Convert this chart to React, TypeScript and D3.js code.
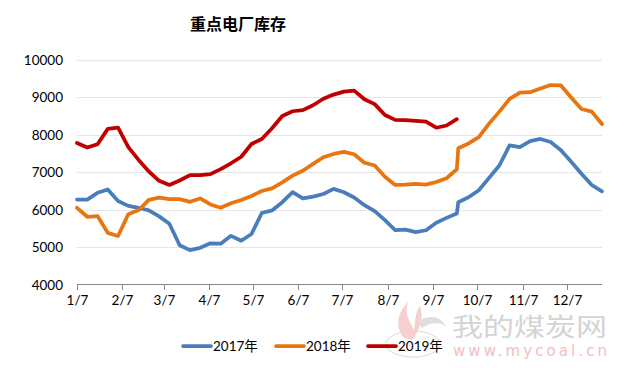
import { useEffect, useRef } from "react";
import { select, scaleLinear, scaleTime, timeParse, line } from "d3";

// 周数据（万吨），日期为 月/日
const dates = [
  "1/7", "1/14", "1/21", "1/28", "2/4", "2/11", "2/18", "2/25",
  "3/4", "3/11", "3/18", "3/25", "4/1", "4/8", "4/15", "4/22", "4/29",
  "5/6", "5/13", "5/20", "5/27", "6/3", "6/10", "6/17", "6/24",
  "7/1", "7/8", "7/15", "7/22", "7/29", "8/5", "8/12", "8/19", "8/26",
  "9/2", "9/9", "9/16", "9/23", "9/24",
  "10/1", "10/8", "10/15", "10/22", "10/29", "11/5", "11/12", "11/19", "11/26",
  "12/3", "12/10", "12/17", "12/24", "12/31",
];

const s2017 = [
  6270, 6270, 6450, 6540, 6230, 6100, 6050, 5980, 5820, 5625, 5050, 4920, 4980,
  5100, 5090, 5300, 5170, 5350, 5910, 5980, 6200, 6470, 6300, 6350, 6420, 6555,
  6465, 6325, 6120, 5960, 5720, 5450, 5465, 5400, 5450, 5650, 5780, 5900, 6200,
  6330, 6520, 6850, 7180, 7720, 7670, 7830, 7890, 7810, 7590, 7280, 6960, 6660,
  6490,
];
const s2018 = [
  6050, 5810, 5830, 5380, 5295, 5880, 5990, 6260, 6320, 6280, 6280, 6210, 6300,
  6140, 6050, 6170, 6260, 6365, 6500, 6570, 6730, 6910, 7040, 7225, 7400, 7490,
  7545, 7480, 7255, 7180, 6880, 6660, 6670, 6690, 6670, 6740, 6840, 7080, 7640,
  7770, 7940, 8300, 8620, 8960, 9130, 9140, 9240, 9330, 9320, 9000, 8690, 8620,
  8290,
];
const s2019 = [
  7780, 7660, 7750, 8160, 8190, 7670, 7330, 7020, 6770, 6660, 6780, 6925, 6925,
  6950, 7085, 7240, 7415, 7755, 7890, 8175, 8505, 8630, 8660, 8790, 8965, 9075,
  9155, 9180, 8950, 8820, 8530, 8400, 8390, 8370, 8350, 8190, 8250, 8420,
];

const seriesNames = ["2017年", "2018年", "2019年"];
const seriesColors = ["#4a7ebb", "#e8750f", "#c00000"];
const monthTicks = ["1/7", "2/7", "3/7", "4/7", "5/7", "6/7", "7/7", "8/7", "9/7", "10/7", "11/7", "12/7"];
const yTicks = [4000, 5000, 6000, 7000, 8000, 9000, 10000];

const W = 626,
  H = 368;
const FONT = "Lato, 'Liberation Sans', sans-serif";

const parse = timeParse("%m/%d");

const drawChart = (el: SVGSVGElement) => {
  const svg = select(el);
  svg.selectAll("*").remove();

  const x = scaleTime([parse("1/7") as Date, parse("12/31") as Date], [77, 602]);
  const y = scaleLinear([4000, 10000], [284.5, 60]);

  // 网格线
  svg
    .append("g")
    .selectAll("line")
    .data(yTicks.slice(1))
    .enter()
    .append("line")
    .attr("x1", 77)
    .attr("x2", 602)
    .attr("y1", (d) => Math.round(y(d)) + 0.5)
    .attr("y2", (d) => Math.round(y(d)) + 0.5)
    .attr("stroke", "#e6e6e6")
    .attr("stroke-width", 1);

  // y轴标签
  svg
    .append("g")
    .selectAll("text")
    .data(yTicks)
    .enter()
    .append("text")
    .attr("x", 63)
    .attr("y", (d) => y(d) + 5)
    .attr("text-anchor", "end")
    .attr("font-family", FONT)
    .attr("font-size", 13.5)
    .attr("fill", "#000")
    .text((d) => d);

  // x轴
  svg
    .append("line")
    .attr("x1", 77)
    .attr("x2", 602)
    .attr("y1", 284.5)
    .attr("y2", 284.5)
    .attr("stroke", "#868686");
  const xt = svg.append("g");
  monthTicks.forEach((t) => {
    const px = Math.round(x(parse(t) as Date)) + 0.5;
    xt.append("line")
      .attr("x1", px)
      .attr("x2", px)
      .attr("y1", 284.5)
      .attr("y2", 290)
      .attr("stroke", "#868686");
    xt.append("text")
      .attr("x", px)
      .attr("y", 305)
      .attr("text-anchor", "middle")
      .attr("font-family", FONT)
      .attr("font-size", 13.5)
      .attr("fill", "#000")
      .text(t);
  });

  // 水印 (logo + 文字)
  const wm = svg.append("g").attr("opacity", 0.9);
  wm.append("ellipse")
    .attr("cx", 413)
    .attr("cy", 344)
    .attr("rx", 27)
    .attr("ry", 13)
    .attr("fill", "none")
    .attr("stroke", "#e4e4e4")
    .attr("stroke-width", 1.5);
  wm.append("path")
    .attr("d", "M404,338 C394,326 398,312 408,302 C404,314 410,322 414,330 C416,322 414,314 420,306 C424,318 420,330 412,340 Z")
    .attr("fill", "#f6cccc");
  wm.append("path")
    .attr("d", "M418,322 C428,314 440,316 446,326 C438,322 430,322 422,328 Z")
    .attr("fill", "#dcdcdc");
  wm.append("text")
    .attr("x", 452)
    .attr("y", 336)
    .attr("font-family", "'Noto Sans CJK SC', sans-serif")
    .attr("font-size", 25)
    .attr("fill", "#d0d0d0")
    .attr("textLength", 155)
    .attr("lengthAdjust", "spacingAndGlyphs")
    .text("我的煤炭网");
  wm.append("text")
    .attr("x", 453)
    .attr("y", 356)
    .attr("font-family", "'DejaVu Sans', sans-serif")
    .attr("font-size", 15)
    .attr("fill", "#f2b8b8")
    .attr("textLength", 154)
    .text("www.mycoal.cn");

  // 折线
  const allData = [s2017, s2018, s2019];
  const path = line<number>()
    .x((d, i) => x(parse(dates[i]) as Date))
    .y((d) => y(d));
  allData.forEach((vals, k) => {
    svg
      .append("path")
      .attr("d", path(vals))
      .attr("fill", "none")
      .attr("stroke", seriesColors[k])
      .attr("stroke-width", 3.75)
      .attr("stroke-linejoin", "round")
      .attr("stroke-linecap", "round");
  });

  // 标题
  svg
    .append("text")
    .attr("x", 238)
    .attr("y", 30)
    .attr("text-anchor", "middle")
    .attr("font-family", "'Noto Sans CJK SC', sans-serif")
    .attr("font-weight", "bold")
    .attr("font-size", 16)
    .attr("fill", "#000")
    .text("重点电厂库存");

  // 图例
  const legendX = [183, 276, 368];
  const lg = svg.append("g");
  seriesNames.forEach((name, k) => {
    lg.append("line")
      .attr("x1", legendX[k])
      .attr("x2", legendX[k] + 28)
      .attr("y1", 346)
      .attr("y2", 346)
      .attr("stroke", seriesColors[k])
      .attr("stroke-width", 3.75)
      .attr("stroke-linecap", "round");
    lg.append("text")
      .attr("x", legendX[k] + 30)
      .attr("y", 351)
      .attr("font-family", "Lato, 'Noto Sans CJK SC', sans-serif")
      .attr("font-size", 13.5)
      .attr("fill", "#000")
      .text(name);
  });
};

const App = () => {
  const ref = useRef<SVGSVGElement>(null);
  useEffect(() => {
    if (ref.current) drawChart(ref.current);
  }, []);
  return (
    <svg
      ref={ref}
      width={W}
      height={H}
      style={{ position: "absolute", left: 0, top: 0, background: "#fff" }}
    ></svg>
  );
};

export default App;
